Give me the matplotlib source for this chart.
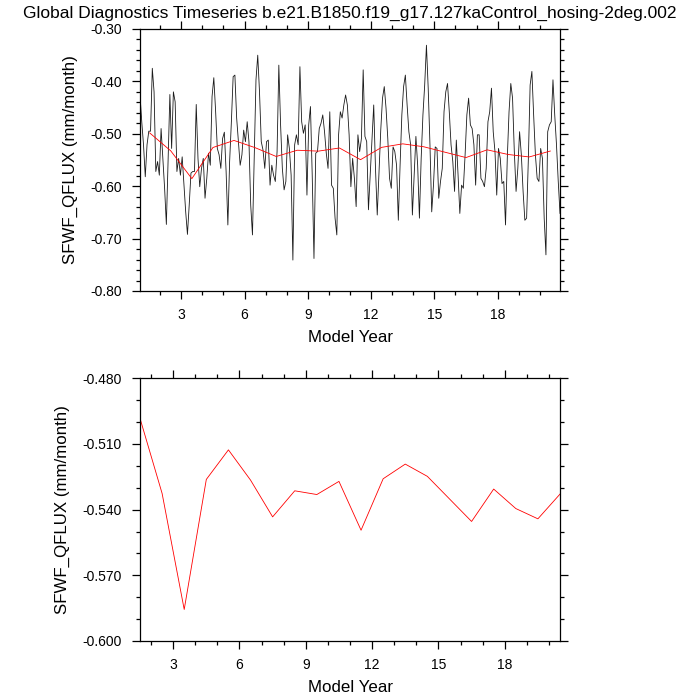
import numpy as np
import matplotlib
matplotlib.use("Agg")
import matplotlib.pyplot as plt
from matplotlib.ticker import MultipleLocator, FormatStrFormatter

plt.rcParams['font.family'] = ['Liberation Sans', 'DejaVu Sans']

title = "Global Diagnostics Timeseries b.e21.B1850.f19_g17.127kaControl_hosing-2deg.002"
ylab = "SFWF_QFLUX (mm/month)"
xlab = "Model Year"

# monthly values, one row per model year
monthly = [
    [-0.426, -0.477, -0.521, -0.582, -0.521, -0.495, -0.495, -0.375, -0.420, -0.572, -0.553, -0.579],
    [-0.490, -0.547, -0.604, -0.673, -0.547, -0.425, -0.528, -0.420, -0.439, -0.572, -0.547, -0.579],
    [-0.544, -0.595, -0.649, -0.692, -0.636, -0.575, -0.572, -0.572, -0.444, -0.547, -0.601, -0.566],
    [-0.547, -0.623, -0.585, -0.537, -0.560, -0.429, -0.393, -0.455, -0.528, -0.540, -0.566, -0.509],
    [-0.497, -0.572, -0.674, -0.553, -0.477, -0.391, -0.388, -0.470, -0.515, -0.560, -0.540, -0.493],
    [-0.515, -0.477, -0.515, -0.636, -0.693, -0.547, -0.397, -0.350, -0.420, -0.515, -0.531, -0.566],
    [-0.515, -0.512, -0.598, -0.560, -0.579, -0.591, -0.534, -0.369, -0.483, -0.566, -0.607, -0.591],
    [-0.502, -0.528, -0.579, -0.741, -0.521, -0.502, -0.521, -0.372, -0.477, -0.499, -0.483, -0.617],
    [-0.483, -0.448, -0.579, -0.738, -0.537, -0.534, -0.490, -0.480, -0.464, -0.496, -0.537, -0.566],
    [-0.458, -0.598, -0.604, -0.661, -0.693, -0.502, -0.458, -0.470, -0.445, -0.426, -0.445, -0.502],
    [-0.601, -0.547, -0.585, -0.639, -0.502, -0.534, -0.509, -0.378, -0.505, -0.515, -0.645, -0.579],
    [-0.509, -0.445, -0.566, -0.655, -0.572, -0.493, -0.432, -0.410, -0.451, -0.509, -0.585, -0.604],
    [-0.525, -0.534, -0.560, -0.665, -0.560, -0.464, -0.410, -0.388, -0.445, -0.496, -0.521, -0.655],
    [-0.579, -0.505, -0.560, -0.661, -0.547, -0.464, -0.407, -0.331, -0.413, -0.521, -0.649, -0.598],
    [-0.525, -0.528, -0.623, -0.591, -0.566, -0.458, -0.420, -0.404, -0.458, -0.521, -0.553, -0.610],
    [-0.512, -0.579, -0.652, -0.598, -0.604, -0.540, -0.464, -0.432, -0.483, -0.490, -0.521, -0.598],
    [-0.502, -0.502, -0.585, -0.591, -0.601, -0.566, -0.477, -0.458, -0.413, -0.496, -0.534, -0.617],
    [-0.528, -0.547, -0.595, -0.591, -0.674, -0.547, -0.458, -0.404, -0.432, -0.534, -0.610, -0.566],
    [-0.496, -0.540, -0.610, -0.665, -0.661, -0.547, -0.407, -0.381, -0.464, -0.540, -0.585, -0.591],
    [-0.528, -0.547, -0.661, -0.731, -0.496, -0.483, -0.477, -0.397, -0.464, -0.521, -0.591, -0.652],
]

# annual means
annual = [-0.4983, -0.5326, -0.5856, -0.5262, -0.5127, -0.5265, -0.5433, -0.5314, -0.5331, -0.5271,
          -0.5494, -0.5259, -0.5192, -0.5248, -0.5351, -0.5454, -0.5306, -0.5395, -0.5442, -0.5329]

monthly = np.array(monthly).ravel()
nyrs = len(annual)
t_mon = 1 + (np.arange(nyrs * 12) + 0.5) / 12.0
t_ann = np.arange(1, nyrs + 1) + 0.5

fig = plt.figure(figsize=(7, 7), dpi=100)
ax1 = fig.add_axes([0.2, 0.5843, 0.6, 0.3743])
ax2 = fig.add_axes([0.2, 0.0843, 0.6, 0.3753])

ax1.plot(t_mon, monthly, color='#1a1a1a', lw=0.6)
ax1.plot(t_ann, annual, color='red', lw=0.6)
ax1.set_xlim(t_mon[0], t_mon[-1])
ax1.set_ylim(-0.80, -0.30)
ax1.yaxis.set_major_locator(MultipleLocator(0.1))
ax1.yaxis.set_minor_locator(MultipleLocator(0.02))
ax1.yaxis.set_major_formatter(FormatStrFormatter('%.2f'))

ax2.plot(t_ann, annual, color='red', lw=0.6)
ax2.set_xlim(t_ann[0], t_ann[-1])
ax2.set_ylim(-0.600, -0.480)
ax2.yaxis.set_major_locator(MultipleLocator(0.03))
ax2.yaxis.set_minor_locator(MultipleLocator(0.01))
ax2.yaxis.set_major_formatter(FormatStrFormatter('%.3f'))

for ax in (ax1, ax2):
    ax.xaxis.set_major_locator(MultipleLocator(3))
    ax.xaxis.set_minor_locator(MultipleLocator(1))
    ax.tick_params(which='both', direction='out', top=True, right=True, width=0.9)
    ax.tick_params(which='major', length=6, labelsize=10, pad=6)
    ax.tick_params(which='minor', length=3)
    ax.tick_params(axis='y', which='major', pad=7)
    for s in ax.spines.values():
        s.set_linewidth(0.9)
    ax.set_xlabel(xlab, fontsize=12.2, labelpad=6)
    ax.set_ylabel(ylab, fontsize=12.2, labelpad=9)

fig.text(0.5, 1 - 13 / 700, title, ha='center', va='center', fontsize=12.5)

fig.savefig('out.png', dpi=100)
